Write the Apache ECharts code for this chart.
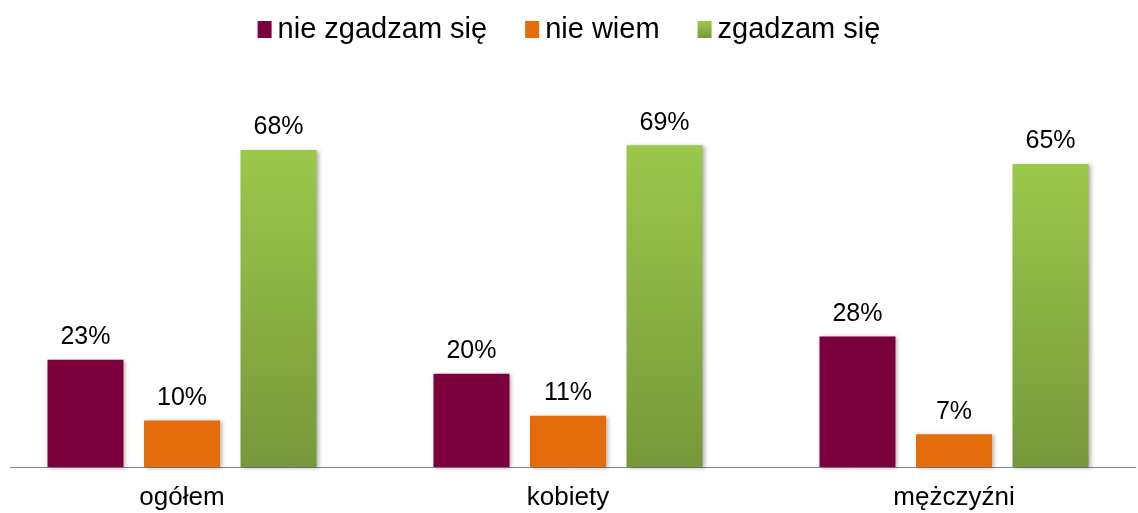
<!DOCTYPE html>
<html>
<head>
<meta charset="utf-8">
<script src="https://cdn.jsdelivr.net/npm/echarts@6/dist/echarts.min.js"></script>
<style>html,body{margin:0;padding:0;background:#fff}#c{width:1138px;height:513px}</style>
</head>
<body>
<div id="c"></div>
<script>
const categories = ['ogółem', 'kobiety', 'mężczyźni'];
const seriesNames = ['nie zgadzam się', 'nie wiem', 'zgadzam się'];
const disagree = [23, 20, 28];
const dontKnow = [10, 11, 7];
const agree = [68, 69, 65];

const font = '"Liberation Sans", Arial, sans-serif';
const shadow = { shadowBlur: 4, shadowColor: 'rgba(0,0,0,0.3)', shadowOffsetX: 2, shadowOffsetY: 1 };
const label = { show: true, position: 'top', distance: 10, formatter: '{c}%', color: '#000', fontFamily: font, fontSize: 25 };

const chart = echarts.init(document.getElementById('c'));
chart.setOption({
  animation: false,
  textStyle: { fontFamily: font },
  legend: {
    top: 10, left: 'center', itemWidth: 14, itemHeight: 17, itemGap: 38,
    icon: 'rect',
    textStyle: { fontFamily: font, fontSize: 29, color: '#000', padding: [0, 0, 0, 1] },
    data: seriesNames
  },
  grid: [
    { left: -11, width: 1158, top: 94, bottom: 46, outerBoundsMode: 'none', containLabel: false },
    { left: 10, right: 2, top: 94, bottom: 46, outerBoundsMode: 'none', containLabel: false }
  ],
  xAxis: [
    { type: 'category', data: categories, gridIndex: 0,
      axisLine: { show: false }, axisTick: { show: false },
      axisLabel: { color: '#000', fontFamily: font, fontSize: 26, margin: 18 } },
    { type: 'value', gridIndex: 1, min: 0, max: 1,
      axisLine: { show: true, lineStyle: { color: '#868686', width: 1 } },
      axisTick: { show: false }, axisLabel: { show: false }, splitLine: { show: false } }
  ],
  yAxis: [
    { type: 'value', gridIndex: 0, min: 0, max: 80, show: false },
    { type: 'value', gridIndex: 1, min: 0, max: 80, show: false }
  ],
  series: [
    { name: seriesNames[0], type: 'bar', data: disagree, barWidth: 76, barGap: '27%',
      itemStyle: Object.assign({ color: '#7B003C' }, shadow), label },
    { name: seriesNames[1], type: 'bar', data: dontKnow, barWidth: 76, barGap: '27%',
      itemStyle: Object.assign({ color: '#E46C0A' }, shadow), label },
    { name: seriesNames[2], type: 'bar', data: agree, barWidth: 76, barGap: '27%',
      itemStyle: Object.assign({ color: new echarts.graphic.LinearGradient(0, 0, 0, 1, [
        { offset: 0, color: '#9BC84B' }, { offset: 1, color: '#77983A' }]) }, shadow), label }
  ]
});
</script>
</body>
</html>
